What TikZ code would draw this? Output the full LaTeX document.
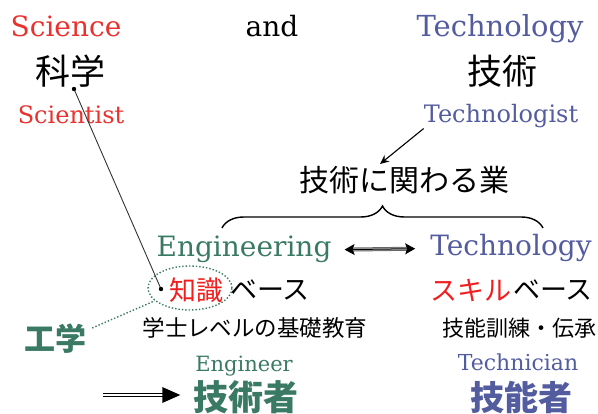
\documentclass[tikz,border=0pt]{standalone}
\usepackage{fontspec}
\setmainfont{DejaVu Serif}
\newfontfamily\jp{Noto Sans CJK JP}
\usetikzlibrary{decorations.pathreplacing,arrows.meta,shapes.geometric}
\definecolor{sred}{RGB}{232,50,46}
\definecolor{kred}{RGB}{240,30,30}
\definecolor{sblue}{RGB}{84,92,160}
\definecolor{sgreen}{RGB}{58,122,100}
\tikzset{
  lat/.style={inner sep=0pt, anchor=base, font=\fontsize{#1}{#1}\selectfont},
  cjk/.style={inner sep=0pt, font=\jp\fontsize{#1}{#1}\selectfont},
  cjkb/.style={inner sep=0pt, font=\jp\bfseries\fontsize{#1}{#1}\selectfont},
}
\begin{document}
\begin{tikzpicture}[x=1pt,y=-1pt]
\useasboundingbox (0,0) rectangle (598,414);
% top row
\node[lat=28, text=sred] (sci) at (66,37) {Science};
\node[lat=28] (and) at (272,37) {and};
\node[lat=29, text=sblue] (tech) at (500,37) {Technology};
\node[cjk=35] (kag) at (70,71) {科学};
\node[cjk=35] (gij) at (502,71) {技術};
\node[lat=24, text=sred] (scist) at (71,124) {Scientist};
\node[lat=24, text=sblue] (tist) at (501,123) {Technologist};
% middle
\node[cjk=30] (gyo) at (404,180) {技術に関わる業};
\coordinate (a2) at (380,164);
\draw[line width=1.1, -{Stealth[length=9pt,width=8pt]}] (tist.south west) -- (a2);
\draw[line width=1.4, decorate, decoration={brace, amplitude=22}] (222,228) -- (543,228);
\node[lat=28, text=sgreen] (eng) at (244,257) {Engineering};
\node[lat=28, text=sblue] (tech2) at (511,256) {Technology};
\draw[line width=1, draw=gray!80!black, double=gray!45, double distance=2, shorten <=18, shorten >=20] (eng.east) -- (tech2.west);
\draw[line width=1, {Stealth[length=10pt,width=11pt,inset=2pt]}-{Stealth[length=10pt,width=11pt,inset=2pt]},
      shorten <=13, shorten >=15] (eng.east) -- (tech2.west);
% knowledge
\node[cjk=27, text=kred] (chi) at (196,290) {知識};
\node[cjk=27, anchor=west] (base1) at (230,290) {ベース};
\node[ellipse, draw=sgreen, dotted, line width=1.4, minimum width=84, minimum height=44, inner sep=0] (ell) at (190,288) {};
\node[cjkb=31, text=sgreen] (kou) at (55,339) {工学};
\path (kou.north east) ++(6,4) coordinate (k1);
\draw[sgreen, dotted, line width=1.4] (k1) -- (ell.200);
\node[cjk=22.5] (gak) at (255,328) {学士レベルの基礎教育};
\node[lat=21, text=sgreen] (engr) at (244,372) {Engineer};
\node[cjkb=35, text=sgreen] (gis) at (246,397) {技術者};
\coordinate (s0) at (103,395);
\draw[line width=1.1, double distance=2.2, shorten >=28] (s0) -- (gis.west |- s0);
\fill ([xshift=-13]gis.west |- s0) -- ++(-18,-8) -- ++(0,16) -- cycle;
% skill
\node[cjk=27, text=kred] (ski) at (471,290) {スキル};
\node[cjk=27, anchor=west] (base2) at (513,290) {ベース};
\node[cjk=22] (kun) at (519,328) {技能訓練・伝承};
\node[lat=22, text=sblue] (tcn) at (518,371) {Technician};
\node[cjkb=34, text=sblue] (gin) at (521,397) {技能者};
% line from kagaku
\coordinate (d1) at (74,89);
\coordinate (d2) at (161,289);
\draw[line width=0.9, draw=black!80] (d1) -- (d2);
\fill (d1) circle (2.2);
\fill (d2) circle (2.2);
\end{tikzpicture}
\end{document}
